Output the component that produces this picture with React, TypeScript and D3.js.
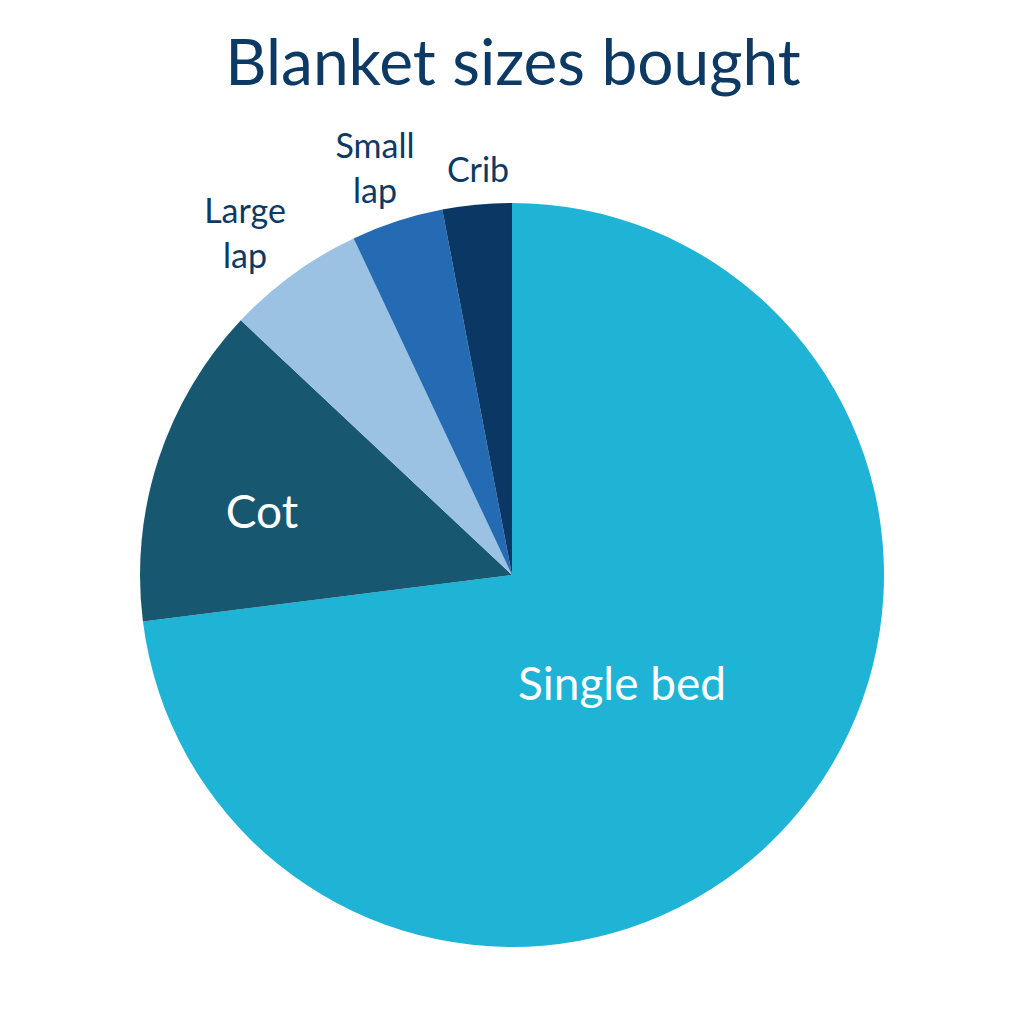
import React, { useEffect, useRef } from "react";
import * as d3 from "d3";

const categories = ["Single bed", "Cot", "Large lap", "Small lap", "Crib"];
const shares = [73, 14, 6, 4, 3];
const colors = ["#1fb3d5", "#17576f", "#9bc1e3", "#256bb3", "#0b3764"];
// label lines per slice, and whether it sits inside the pie
const labelLines = [["Single bed"], ["Cot"], ["Large", "lap"], ["Small", "lap"], ["Crib"]];
const labelInside = [true, true, false, false, false];

export default function App() {
    const svgRef = useRef(null);
    const width = 1024;
    const height = 1024;

    useEffect(() => {
        const svg = d3.select(svgRef.current);
        svg.selectAll("*").remove();

        const cx = 512;
        const cy = 575;
        const radius = 372;
        const font = "'Lato', 'Noto Sans', sans-serif";

        svg.append("rect")
            .attr("width", width)
            .attr("height", height)
            .attr("fill", "#ffffff");

        // Title
        svg.append("text")
            .attr("x", 513)
            .attr("y", 85)
            .attr("text-anchor", "middle")
            .style("font-family", font)
            .style("font-size", "64px")
            .attr("fill", "#0d3a64")
            .text("Blanket sizes bought");

        const data = categories.map((c, i) => ({ name: c, value: shares[i], i }));

        const pie = d3.pie<any>()
            .value(d => d.value)
            .sort(null);

        const arcs = pie(data);
        const arc = d3.arc<any>().innerRadius(0).outerRadius(radius);

        const g = svg.append("g").attr("transform", `translate(${cx},${cy})`);

        g.selectAll("path")
            .data(arcs)
            .join("path")
            .attr("d", arc)
            .attr("fill", d => colors[d.data.i]);

        // label anchors (centre x, first baseline) relative to pie centre
        const labelPos = [[110, 125], [-250, -47], [-267, -352], [-137, -417], [-34, -393]];

        arcs.forEach(a => {
            const i = a.data.i;
            const inside = labelInside[i];
            const [x, y] = labelPos[i];
            const lines = labelLines[i];
            const size = inside ? 46 : 34;
            const lh = inside ? 50 : 45;
            const t = g.append("text")
                .attr("text-anchor", "middle")
                .style("font-family", font)
                .style("font-size", `${size}px`)
                .attr("fill", inside ? "#ffffff" : "#0d3a64");
            lines.forEach((line, k) => {
                t.append("tspan")
                    .attr("x", x)
                    .attr("y", y + k * lh)
                    .text(line);
            });
        });
    }, []);

    return (
        <svg
            ref={svgRef}
            width={width}
            height={height}
            style={{ position: "absolute", left: 0, top: 0, display: "block" }}
        />
    );
}
